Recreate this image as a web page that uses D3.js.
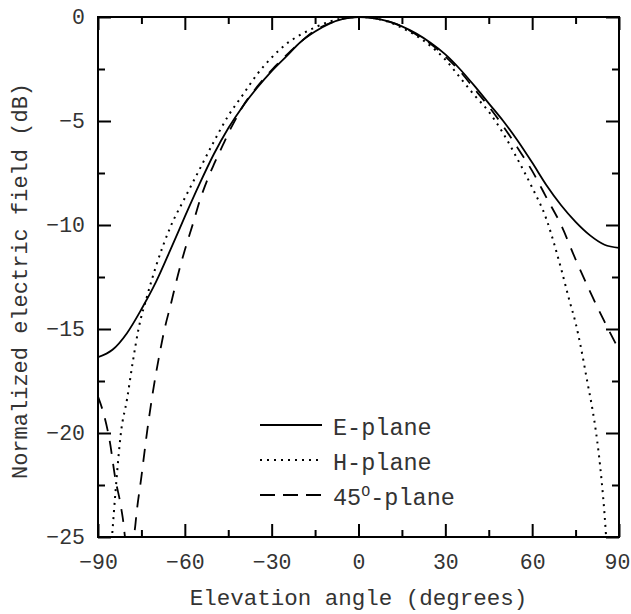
<!DOCTYPE html>
<html>
<head>
<meta charset="utf-8">
<script src="https://cdn.jsdelivr.net/npm/d3@7"></script>
<style>
    body { margin: 0; background: #fff; }
    svg text { font-family: "Liberation Mono", "Courier New", monospace; fill: #333; }
</style>
</head>
<body>
<div id="grafico"></div>
<script>
// E-plane (solid)
const eAngles = [-90, -85, -80, -75, -70, -65, -60, -55, -50, -45, -40, -35, -30, -25, -20, -15, -10, -5, 0,
    5, 10, 15, 20, 25, 30, 35, 40, 45, 50, 55, 60, 65, 70, 75, 80, 85, 90];
const eValues = [-16.35, -16.0, -15.2, -14.05, -12.75, -11.2, -9.6, -8.05, -6.6, -5.35, -4.3, -3.4, -2.6, -1.9, -1.2, -0.7, -0.32, -0.08, 0,
    -0.05, -0.2, -0.45, -0.8, -1.25, -1.8, -2.5, -3.3, -4.15, -5.0, -5.95, -7.0, -8.1, -9.05, -9.85, -10.5, -10.95, -11.1];

// H-plane (dotted)
const hAngles = [-87, -86, -85, -84, -82, -80, -78, -76, -73, -70, -65, -60, -55, -50, -45, -40, -35, -30, -25, -20, -15, -10, -5, 0,
    5, 10, 15, 20, 25, 30, 35, 40, 45, 50, 55, 60, 65, 68, 70, 73, 75, 77, 79, 81, 82, 84, 85, 86, 87];
const hValues = [-28.5, -26.5, -24.7, -22.9, -19.9, -18.4, -16.6, -15.0, -13.4, -12.0, -10.1, -8.7, -7.35, -6.0, -4.75, -3.75, -2.75, -1.95, -1.3, -0.85, -0.5, -0.22, -0.05, 0,
    -0.05, -0.22, -0.52, -0.9, -1.4, -2.05, -2.9, -3.75, -4.55, -5.6, -6.85, -8.2, -9.75, -11.1, -12.1, -13.7, -14.7, -16.0, -17.5, -19.0, -19.9, -22.3, -23.9, -26.0, -28.5];

// 45-plane (dashed)
const dAngles = [-90, -88, -86, -84, -82, -81, -80, -79, -78, -77, -75, -73, -71, -69, -67, -65, -62, -60, -57, -55, -52, -50, -47, -45, -42, -40, -35, -30, -25, -20, -15, -10, -5, 0,
    5, 10, 15, 20, 25, 30, 35, 40, 45, 50, 55, 60, 65, 70, 75, 80, 85, 90];
const dValues = [-18.25, -19.1, -20.35, -22.2, -23.6, -24.6, -26.5, -33, -26.0, -24.3, -22.1, -19.9, -18.0, -16.4, -15.0, -13.9, -12.2, -11.2, -9.85, -8.9, -7.75, -7.1, -6.2, -5.6, -4.8, -4.3, -3.35, -2.55, -1.85, -1.2, -0.65, -0.3, -0.08, 0,
    -0.05, -0.2, -0.45, -0.85, -1.3, -1.9, -2.6, -3.45, -4.3, -5.25, -6.3, -7.4, -8.7, -10.0, -11.65, -13.2, -14.65, -16.0];

const xMajor = [-90, -60, -30, 0, 30, 60, 90];
const xMinor = [-75, -45, -15, 15, 45, 75];
const yMajor = [0, -5, -10, -15, -20, -25];
const yMinor = [-2.5, -7.5, -12.5, -17.5, -22.5];

const legendLabels = ['E-plane', 'H-plane', '45'];

document.addEventListener('DOMContentLoaded', () => {
    const width = 631;
    const height = 614;
    const left = 98, right = 619, top = 17, bottom = 537;
    const font = '"Liberation Mono", "Courier New", monospace';

    const svg = d3.select('#grafico')
        .append('svg')
        .attr('width', width)
        .attr('height', height);

    const x = d3.scaleLinear().domain([-90, 90]).range([left, right]);
    const y = d3.scaleLinear().domain([-25, 0]).range([bottom, top]);

    svg.append('clipPath')
        .attr('id', 'area')
        .append('rect')
        .attr('x', left)
        .attr('y', top)
        .attr('width', right - left)
        .attr('height', bottom - top);

    // ejes: ticks hacia adentro en los cuatro lados
    function axis(gen, tx, ty, vals, size, labels) {
        const g = svg.append('g')
            .attr('transform', `translate(${tx},${ty})`)
            .call(gen.tickValues(vals).tickSize(size)
                .tickPadding(labels ? 14 : 0)
                .tickFormat(labels ? d3.format('') : ''));
        g.attr('font-family', font).attr('font-size', 21.5);
        g.select('.domain').remove();
        g.selectAll('line').attr('stroke', '#000').attr('stroke-width', 2);
        return g;
    }

    const xb = axis(d3.axisBottom(x), 0, bottom, xMajor, -13, true);
    xb.selectAll('text').attr('y', 17)
        .attr('dx', d => d === 90 ? -2 : 0);
    axis(d3.axisBottom(x), 0, bottom, xMinor, -7, false);
    axis(d3.axisTop(x), 0, top, xMajor, -13, false);
    axis(d3.axisTop(x), 0, top, xMinor, -7, false);

    const yl = axis(d3.axisLeft(y), left, 0, yMajor, -13, true);
    yl.selectAll('text').attr('x', -13);
    axis(d3.axisLeft(y), left, 0, yMinor, -7, false);
    axis(d3.axisRight(y), right, 0, yMajor, -13, false);
    axis(d3.axisRight(y), right, 0, yMinor, -7, false);

    svg.append('rect')
        .attr('x', left)
        .attr('y', top)
        .attr('width', right - left)
        .attr('height', bottom - top)
        .attr('fill', 'none')
        .attr('stroke', '#000')
        .attr('stroke-width', 2);

    // curvas
    const line = d3.line()
        .x(d => x(d[0]))
        .y(d => y(d[1]))
        .curve(d3.curveMonotoneX);

    const series = [
        { pts: d3.zip(eAngles, eValues), dash: null, w: 1.8 },
        { pts: d3.zip(hAngles, hValues), dash: '2,5', w: 2 },
        { pts: d3.zip(dAngles, dValues), dash: '13,10', w: 1.8 }
    ];

    svg.append('g')
        .attr('clip-path', 'url(#area)')
        .selectAll('path')
        .data(series)
        .enter()
        .append('path')
        .attr('d', d => line(d.pts))
        .attr('fill', 'none')
        .attr('stroke', '#000')
        .attr('stroke-width', d => d.w)
        .attr('stroke-dasharray', d => d.dash);

    // etiquetas de ejes
    svg.append('text')
        .attr('x', (left + right) / 2)
        .attr('y', 605)
        .attr('text-anchor', 'middle')
        .style('font-size', '22.5px')
        .text('Elevation angle (degrees)');

    svg.append('text')
        .attr('transform', `translate(27,${(top + bottom) / 2 + 4}) rotate(-90)`)
        .attr('text-anchor', 'middle')
        .style('font-size', '22px')
        .text('Normalized electric field (dB)');

    // leyenda
    const legend = svg.append('g');
    const rowY = [425, 460, 495];
    legend.selectAll('line')
        .data(series)
        .enter()
        .append('line')
        .attr('x1', 260)
        .attr('x2', 322)
        .attr('y1', (d, i) => rowY[i])
        .attr('y2', (d, i) => rowY[i])
        .attr('stroke', '#000')
        .attr('stroke-width', d => d.w)
        .attr('stroke-dasharray', (d, i) => i === 2 ? '15,8' : d.dash);

    const labels = legend.selectAll('text')
        .data(legendLabels)
        .enter()
        .append('text')
        .attr('x', 333)
        .attr('y', (d, i) => rowY[i] + 10)
        .style('font-size', '23.5px')
        .text(d => d);

    const last = labels.filter((d, i) => i === 2);
    last.append('tspan').attr('dy', -9).style('font-size', '15px').text('O');
    last.append('tspan').attr('dy', 9).style('font-size', '23.5px').text('-plane');
});
</script>
</body>
</html>
